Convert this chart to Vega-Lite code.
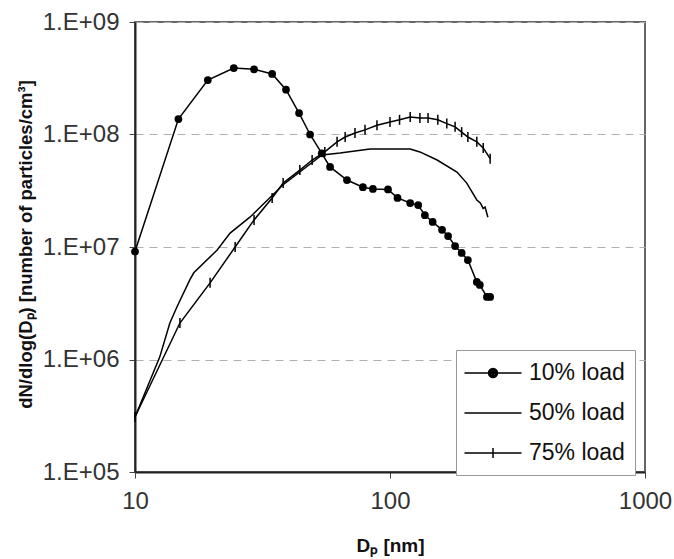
{
  "$schema": "https://vega.github.io/schema/vega-lite/v6.json",
  "width": 510,
  "height": 450,
  "autosize": "none",
  "padding": {"left": 135, "top": 22, "right": 29, "bottom": 87},
  "background": "white",
  "config": {
    "font": "Liberation Sans",
    "view": {"stroke": "#666", "strokeWidth": 2}
  },
  "datasets": {
    "pts": [
      {"s": "10% load", "x": 10, "y": 9.1e6},
      {"s": "10% load", "x": 14.8, "y": 1.37e8},
      {"s": "10% load", "x": 19.3, "y": 3.05e8},
      {"s": "10% load", "x": 24.4, "y": 3.9e8},
      {"s": "10% load", "x": 29.3, "y": 3.8e8},
      {"s": "10% load", "x": 34.5, "y": 3.45e8},
      {"s": "10% load", "x": 39.1, "y": 2.5e8},
      {"s": "10% load", "x": 44.0, "y": 1.55e8},
      {"s": "10% load", "x": 48.6, "y": 1.0e8},
      {"s": "10% load", "x": 54.0, "y": 6.8e7},
      {"s": "10% load", "x": 58.2, "y": 5.15e7},
      {"s": "10% load", "x": 67.8, "y": 3.94e7},
      {"s": "10% load", "x": 78.3, "y": 3.4e7},
      {"s": "10% load", "x": 85.7, "y": 3.28e7},
      {"s": "10% load", "x": 98.2, "y": 3.25e7},
      {"s": "10% load", "x": 107, "y": 2.73e7},
      {"s": "10% load", "x": 120, "y": 2.46e7},
      {"s": "10% load", "x": 129, "y": 2.36e7},
      {"s": "10% load", "x": 137, "y": 1.92e7},
      {"s": "10% load", "x": 147, "y": 1.67e7},
      {"s": "10% load", "x": 160, "y": 1.42e7},
      {"s": "10% load", "x": 169, "y": 1.25e7},
      {"s": "10% load", "x": 180, "y": 1.02e7},
      {"s": "10% load", "x": 191, "y": 8.85e6},
      {"s": "10% load", "x": 202, "y": 7.66e6},
      {"s": "10% load", "x": 219, "y": 4.89e6},
      {"s": "10% load", "x": 225, "y": 4.6e6},
      {"s": "10% load", "x": 240, "y": 3.6e6},
      {"s": "10% load", "x": 247, "y": 3.6e6},
      {"s": "50% load", "x": 10, "y": 3.08e5},
      {"s": "50% load", "x": 12.5, "y": 1.05e6},
      {"s": "50% load", "x": 13.7, "y": 2.11e6},
      {"s": "50% load", "x": 14.6, "y": 2.93e6},
      {"s": "50% load", "x": 16.4, "y": 5.1e6},
      {"s": "50% load", "x": 17.0, "y": 5.9e6},
      {"s": "50% load", "x": 21.0, "y": 9.4e6},
      {"s": "50% load", "x": 23.6, "y": 1.33e7},
      {"s": "50% load", "x": 28.3, "y": 1.85e7},
      {"s": "50% load", "x": 38.0, "y": 3.56e7},
      {"s": "50% load", "x": 54.1, "y": 6.58e7},
      {"s": "50% load", "x": 63.7, "y": 6.85e7},
      {"s": "50% load", "x": 83.5, "y": 7.43e7},
      {"s": "50% load", "x": 120, "y": 7.43e7},
      {"s": "50% load", "x": 131, "y": 7.0e7},
      {"s": "50% load", "x": 153, "y": 5.93e7},
      {"s": "50% load", "x": 183, "y": 4.64e7},
      {"s": "50% load", "x": 200, "y": 3.7e7},
      {"s": "50% load", "x": 219, "y": 2.62e7},
      {"s": "50% load", "x": 226, "y": 2.46e7},
      {"s": "50% load", "x": 232, "y": 2.2e7},
      {"s": "50% load", "x": 236, "y": 2.27e7},
      {"s": "50% load", "x": 242, "y": 1.84e7},
      {"s": "75% load", "x": 10, "y": 3.08e5},
      {"s": "75% load", "x": 15.0, "y": 2.11e6},
      {"s": "75% load", "x": 19.7, "y": 4.8e6},
      {"s": "75% load", "x": 24.7, "y": 1.0e7},
      {"s": "75% load", "x": 29.3, "y": 1.74e7},
      {"s": "75% load", "x": 34.5, "y": 2.73e7},
      {"s": "75% load", "x": 38.1, "y": 3.7e7},
      {"s": "75% load", "x": 44.3, "y": 4.83e7},
      {"s": "75% load", "x": 49.5, "y": 5.93e7},
      {"s": "75% load", "x": 55.5, "y": 7.0e7},
      {"s": "75% load", "x": 62.0, "y": 8.6e7},
      {"s": "75% load", "x": 66.7, "y": 9.5e7},
      {"s": "75% load", "x": 72.9, "y": 1.03e8},
      {"s": "75% load", "x": 79.8, "y": 1.1e8},
      {"s": "75% load", "x": 88.9, "y": 1.21e8},
      {"s": "75% load", "x": 100, "y": 1.29e8},
      {"s": "75% load", "x": 109, "y": 1.35e8},
      {"s": "75% load", "x": 120, "y": 1.43e8},
      {"s": "75% load", "x": 131, "y": 1.4e8},
      {"s": "75% load", "x": 141, "y": 1.4e8},
      {"s": "75% load", "x": 154, "y": 1.35e8},
      {"s": "75% load", "x": 167, "y": 1.25e8},
      {"s": "75% load", "x": 180, "y": 1.17e8},
      {"s": "75% load", "x": 191, "y": 1.05e8},
      {"s": "75% load", "x": 202, "y": 9.5e7},
      {"s": "75% load", "x": 219, "y": 8.6e7},
      {"s": "75% load", "x": 232, "y": 7.6e7},
      {"s": "75% load", "x": 247, "y": 6.1e7}
    ]
  },
  "data": {"name": "pts"},
  "encoding": {
    "x": {
      "field": "x", "type": "quantitative",
      "scale": {"type": "log", "domain": [10, 1000], "nice": false},
      "axis": {
        "title": "Dₚ [nm]",
        "values": [10, 100, 1000],
        "format": "d",
        "grid": false,
        "domainColor": "#222", "domainWidth": 2,
        "tickColor": "#444", "tickSize": 6, "tickWidth": 1,
        "labelFontSize": 24, "labelColor": "#333", "labelPadding": 11,
        "labelFlush": false, "labelOverlap": false,
        "titleFontSize": 19, "titleFontWeight": "bold", "titleColor": "#111",
        "titleY": 73, "titleBaseline": "middle"
      }
    },
    "y": {
      "field": "y", "type": "quantitative",
      "scale": {"type": "log", "domain": [1e5, 1e9], "nice": false},
      "axis": {
        "title": "dN/dlog(Dₚ) [number of particles/cm³]",
        "values": [1e5, 1e6, 1e7, 1e8, 1e9],
        "labelExpr": "'1.E+0' + round(log(datum.value)/LN10)",
        "grid": true, "gridDash": [8, 6], "gridColor": "#b0b0b0", "gridWidth": 1,
        "domainColor": "#222", "domainWidth": 2,
        "tickColor": "#444", "tickSize": 6, "tickWidth": 1,
        "labelFontSize": 24, "labelColor": "#333", "labelPadding": 10,
        "titleFontSize": 18.5, "titleFontWeight": "bold", "titleColor": "#111",
        "titleX": -110, "titleY": 222, "titleBaseline": "middle", "titleAngle": -90
      }
    }
  },
  "layer": [
    {
      "mark": {"type": "line", "color": "black", "strokeWidth": 1.5},
      "encoding": {"detail": {"field": "s", "type": "nominal"}}
    },
    {
      "transform": [{"filter": "datum.s === '10% load'"}],
      "mark": {"type": "point", "shape": "circle", "filled": true, "color": "black", "size": 60, "opacity": 1}
    },
    {
      "transform": [{"filter": "datum.s === '75% load'"}],
      "mark": {"type": "point", "shape": "M0,-1V1", "filled": false, "color": "black", "size": 100, "strokeWidth": 1.5, "opacity": 1}
    },
    {
      "data": {"values": []},
      "mark": {"type": "point", "filled": false, "color": "black", "strokeWidth": 1.5, "size": 576, "opacity": 1},
      "encoding": {
        "x": {"field": "x", "type": "quantitative"},
        "y": {"field": "y", "type": "quantitative"},
        "shape": {
          "field": "s", "type": "nominal",
          "scale": {
            "domain": ["10% load", "50% load", "75% load"],
            "range": [
              "M-2.375,0H2.375M-0.375,0A0.375,0.375,0,1,0,0.375,0A0.375,0.375,0,1,0,-0.375,0ZM-0.25,0A0.25,0.25,0,1,0,0.25,0A0.25,0.25,0,1,0,-0.25,0ZM-0.125,0A0.125,0.125,0,1,0,0.125,0A0.125,0.125,0,1,0,-0.125,0ZM-0.04,0A0.04,0.04,0,1,0,0.04,0A0.04,0.04,0,1,0,-0.04,0Z",
              "M-2.375,0H2.375",
              "M-2.375,0H2.375M0,-0.42V0.42"
            ]
          },
          "legend": {
            "orient": "none", "legendX": 321, "legendY": 328,
            "title": null,
            "padding": 10, "strokeColor": "#999", "fillColor": "white",
            "labelFontSize": 23, "labelColor": "#111", "labelFont": "Liberation Sans",
            "symbolSize": 576, "rowPadding": 15, "symbolOffset": 14, "labelOffset": 23,
            "symbolStrokeWidth": 1.5, "symbolStrokeColor": "black"
          }
        }
      }
    }
  ]
}
